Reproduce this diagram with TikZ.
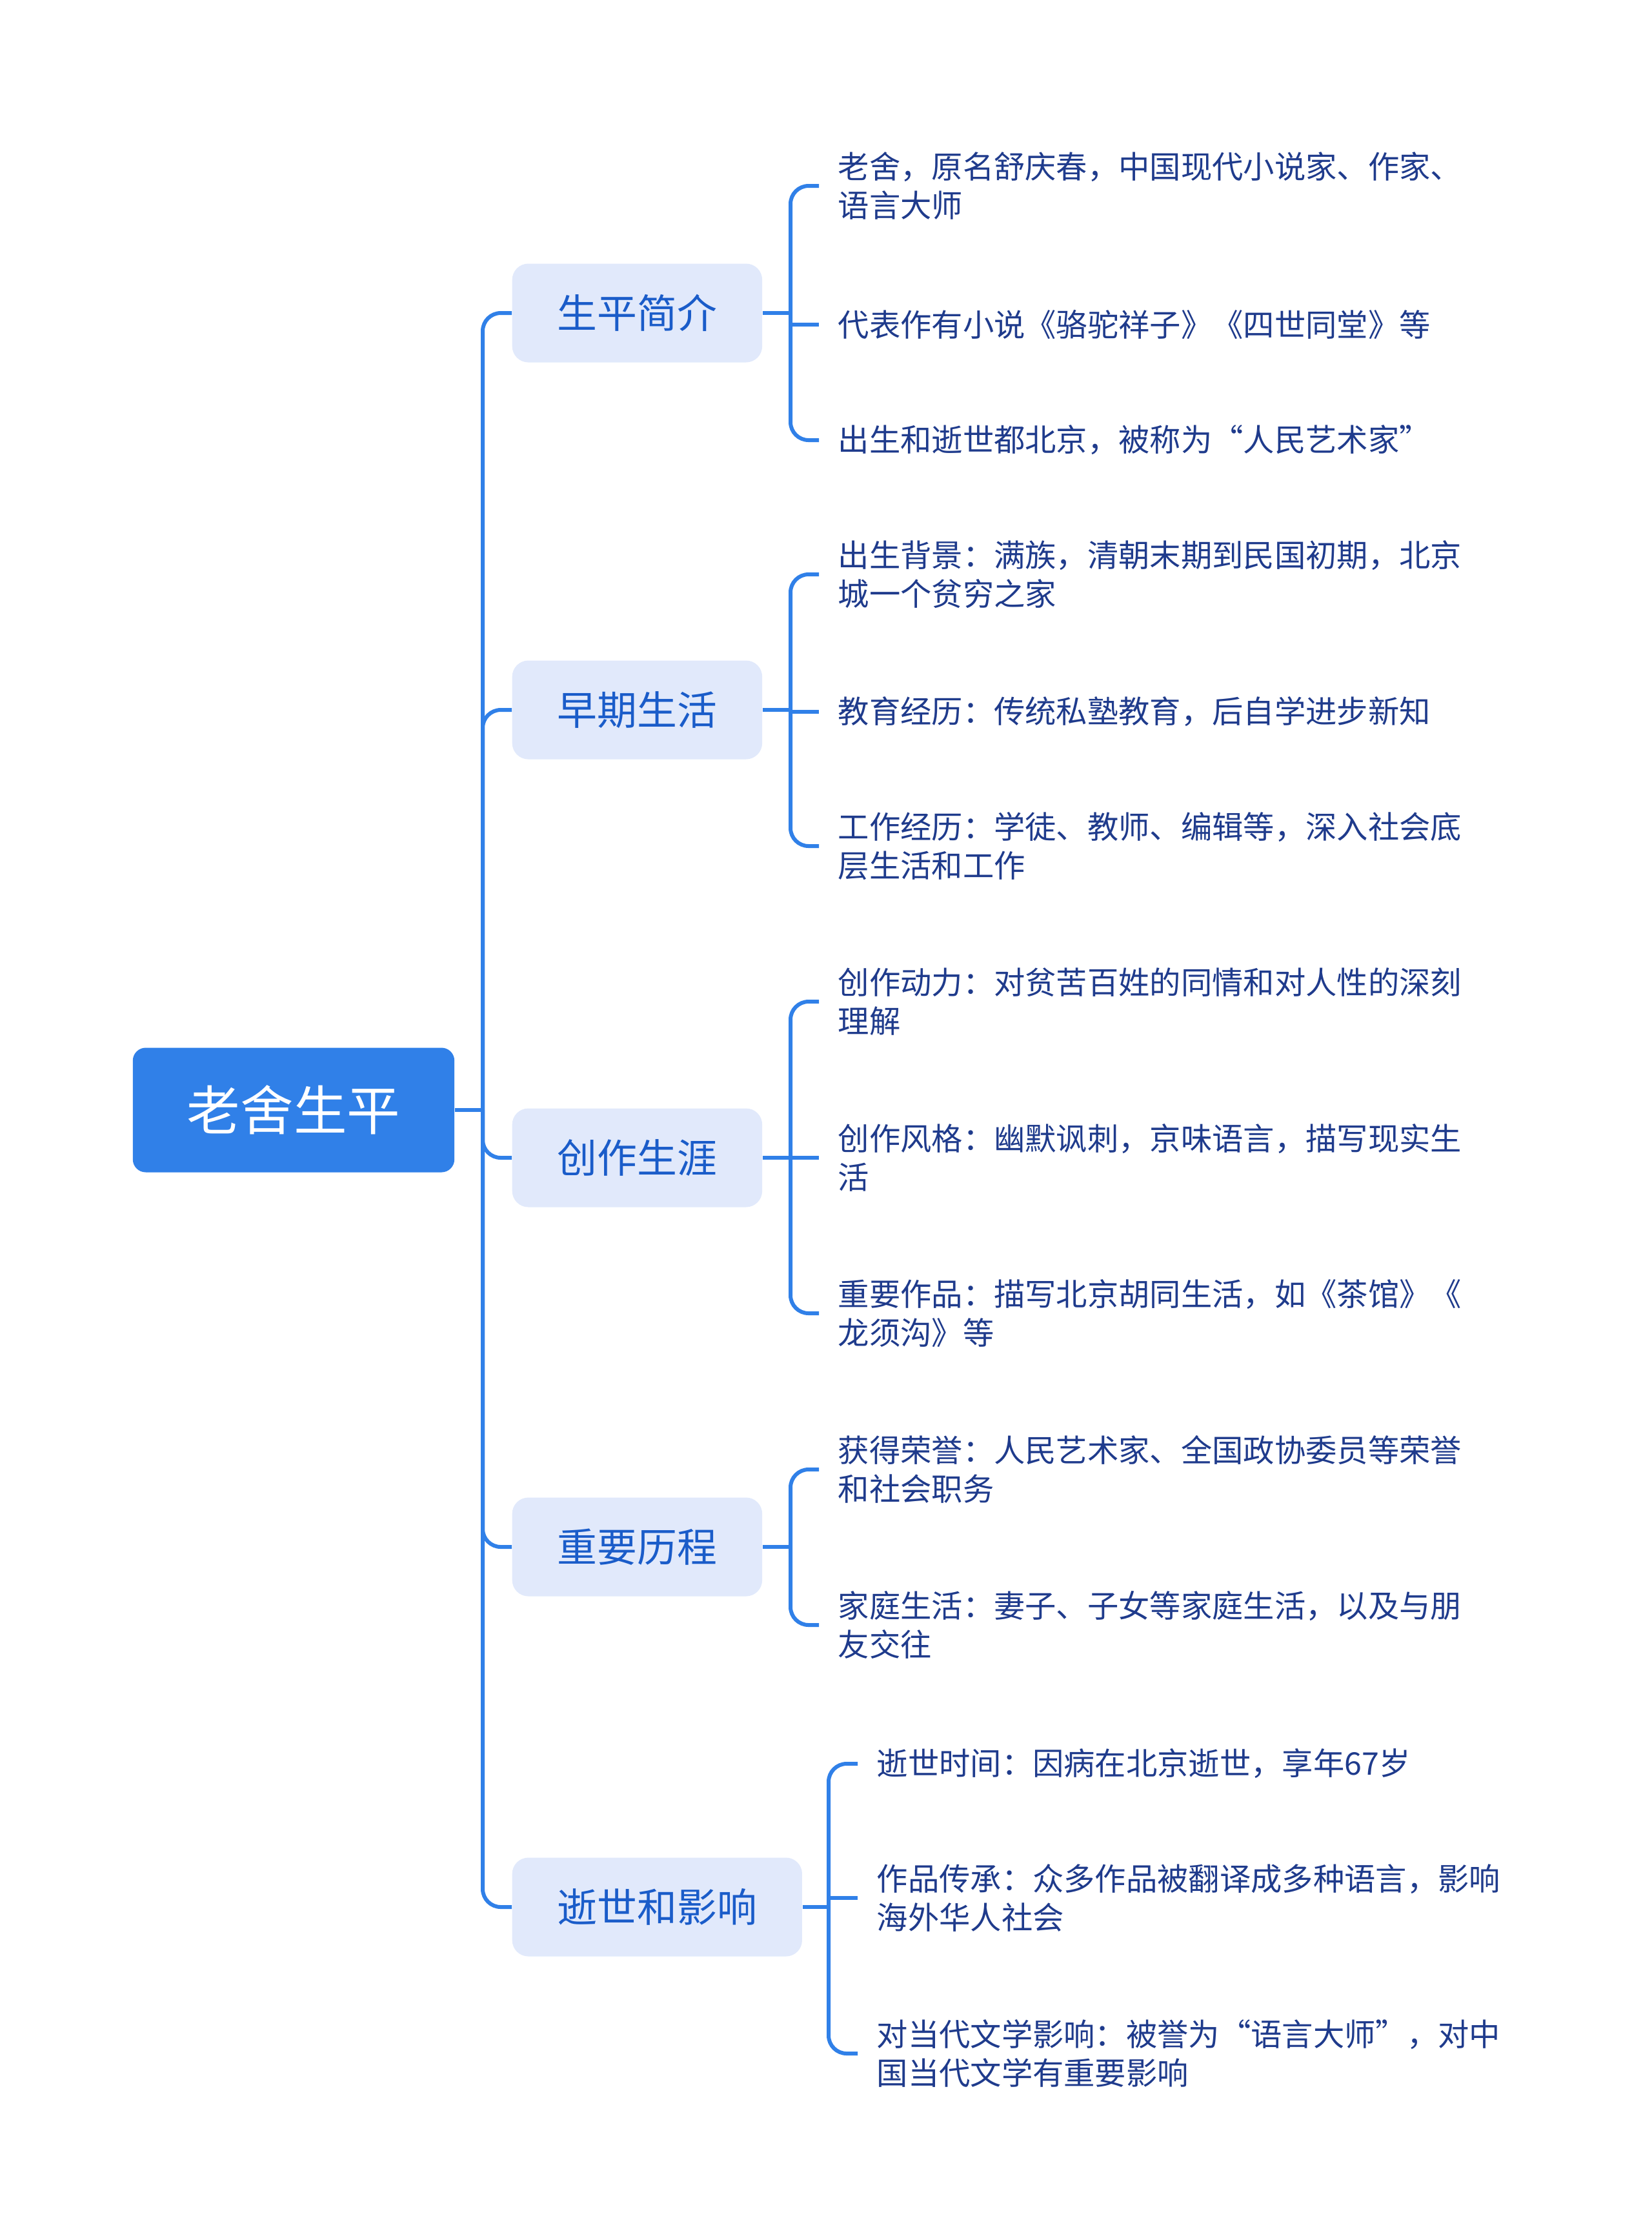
\documentclass[tikz,border=0pt]{standalone}
\usepackage{fontspec}
\setmainfont{Noto Sans CJK SC}
\definecolor{linkblue}{HTML}{3080E8}
\definecolor{topicfill}{HTML}{E1E9FB}
\definecolor{topictext}{HTML}{1A5CC9}
\definecolor{leaftext}{HTML}{1F3B8C}

\begin{document}
\begin{tikzpicture}[
    link/.style={line width=0.06cm, draw=linkblue, rounded corners=0.28cm},
    rootbox/.style={fill=linkblue, rounded corners=0.2cm, text=white, minimum height=1.93cm, inner xsep=0.84cm, font=\fontsize{23.5}{28}\selectfont},
    topicbox/.style={anchor=west, fill=topicfill, rounded corners=0.25cm, text=topictext, minimum height=1.53cm, inner xsep=0.7cm, font=\fontsize{17.6}{21}\selectfont},
    leaf/.style={anchor=west, align=left, inner xsep=0.29cm, inner ysep=0pt, text=leaftext, font=\fontsize{13.75}{17.1}\selectfont}
]
        \useasboundingbox (0,0) rectangle (25.6,-34.71);

        % root
        \node[rootbox] (root) at (4.55,-17.20) {老舍生平};
        \coordinate (trunk) at (7.48,-17.20);

        % topics
        \node[topicbox] (intro)  at (7.93,-4.85)  {生平简介};
        \node[topicbox] (early)  at (7.93,-11.00) {早期生活};
        \node[topicbox] (career) at (7.93,-17.94) {创作生涯};
        \node[topicbox] (events) at (7.93,-23.97) {重要历程};
        \node[topicbox] (death)  at (7.93,-29.55) {逝世和影响};

        \draw[link] (root.east) -- (trunk);
        \draw[link] (trunk) |- (intro.west);
        \draw[link] (trunk) |- (early.west);
        \draw[link] (trunk) |- (career.west);
        \draw[link] (trunk) |- (events.west);
        \draw[link] (trunk) |- (death.west);

        % 生平简介
        \coordinate (jintro) at (12.25,-4.85);
        \node[leaf] (intro1) at (12.69,-2.88) {老舍，原名舒庆春，中国现代小说家、作家、\\语言大师};
        \node[leaf] (intro2) at (12.69,-5.03) {代表作有小说《骆驼祥子》《四世同堂》等};
        \node[leaf] (intro3) at (12.69,-6.82) {出生和逝世都北京，被称为“人民艺术家”};
        \draw[link] (intro.east) -- (jintro);
        \draw[link] (jintro) |- (intro1.west);
        \draw[link] (jintro |- intro2.west) -- (intro2.west);
        \draw[link] (jintro) |- (intro3.west);

        % 早期生活
        \coordinate (jearly) at (12.25,-11.00);
        \node[leaf] (early1) at (12.69,-8.90)  {出生背景：满族，清朝末期到民国初期，北京\\城一个贫穷之家};
        \node[leaf] (early2) at (12.69,-11.03) {教育经历：传统私塾教育，后自学进步新知};
        \node[leaf] (early3) at (12.69,-13.11) {工作经历：学徒、教师、编辑等，深入社会底\\层生活和工作};
        \draw[link] (early.east) -- (jearly);
        \draw[link] (jearly) |- (early1.west);
        \draw[link] (jearly |- early2.west) -- (early2.west);
        \draw[link] (jearly) |- (early3.west);

        % 创作生涯
        \coordinate (jcareer) at (12.25,-17.94);
        \node[leaf] (career1) at (12.69,-15.52) {创作动力：对贫苦百姓的同情和对人性的深刻\\理解};
        \node[leaf] (career2) at (12.69,-17.94) {创作风格：幽默讽刺，京味语言，描写现实生\\活};
        \node[leaf] (career3) at (12.69,-20.35) {重要作品：描写北京胡同生活，如《茶馆》《\\龙须沟》等};
        \draw[link] (career.east) -- (jcareer);
        \draw[link] (jcareer) |- (career1.west);
        \draw[link] (jcareer |- career2.west) -- (career2.west);
        \draw[link] (jcareer) |- (career3.west);

        % 重要历程
        \coordinate (jevents) at (12.25,-23.97);
        \node[leaf] (events1) at (12.69,-22.77) {获得荣誉：人民艺术家、全国政协委员等荣誉\\和社会职务};
        \node[leaf] (events2) at (12.69,-25.18) {家庭生活：妻子、子女等家庭生活，以及与朋\\友交往};
        \draw[link] (events.east) -- (jevents);
        \draw[link] (jevents) |- (events1.west);
        \draw[link] (jevents) |- (events2.west);

        % 逝世和影响
        \coordinate (jdeath) at (12.84,-29.55);
        \node[leaf] (death1) at (13.29,-27.33) {逝世时间：因病在北京逝世，享年67岁};
        \node[leaf] (death2) at (13.29,-29.41) {作品传承：众多作品被翻译成多种语言，影响\\海外华人社会};
        \node[leaf] (death3) at (13.29,-31.82) {对当代文学影响：被誉为“语言大师”，对中\\国当代文学有重要影响};
        \draw[link] (death.east) -- (jdeath);
        \draw[link] (jdeath) |- (death1.west);
        \draw[link] (jdeath |- death2.west) -- (death2.west);
        \draw[link] (jdeath) |- (death3.west);
\end{tikzpicture}
\end{document}
